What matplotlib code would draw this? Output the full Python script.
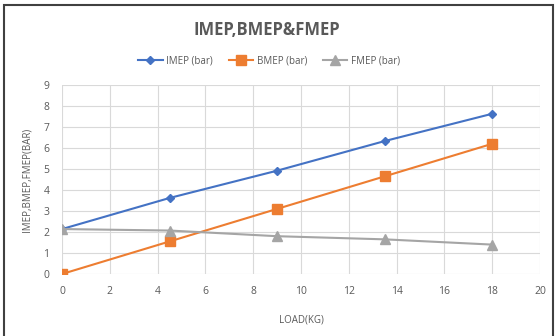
import matplotlib.pyplot as plt
from matplotlib.patches import Rectangle

# Нагрузка и давления
load = [0, 4.5, 9, 13.5, 18]
imep = [2.14, 3.62, 4.92, 6.33, 7.63]
bmep = [0.0, 1.55, 3.1, 4.65, 6.2]
fmep = [2.14, 2.07, 1.8, 1.65, 1.4]

plt.rcParams['font.family'] = ['Open Sans', 'DejaVu Sans']

fig = plt.figure(figsize=(5.55, 3.36), dpi=100)
ax = fig.add_axes([62/555, 1 - 274/336, (540-62)/555, (274-85)/336])

ax.plot(load, imep, color='#4472C4', marker='D', markersize=4, linewidth=1.5, label='IMEP (bar)')
ax.plot(load, bmep, color='#ED7D31', marker='s', markersize=6.5, linewidth=1.5, label='BMEP (bar)')
ax.plot(load, fmep, color='#A5A5A5', marker='^', markersize=6.5, linewidth=1.5, label='FMEP (bar)')

ax.set_xlim(0, 20)
ax.set_ylim(0, 9)
ax.set_xticks(range(0, 21, 2))
ax.set_yticks(range(0, 10))
ax.grid(True, color='#D9D9D9', linewidth=0.8)
ax.set_axisbelow(True)
for s in ax.spines.values():
    s.set_visible(False)
ax.tick_params(length=0, colors='#595959', labelsize=7.5, pad=9)

ax.set_xlabel('LOAD(KG)', color='#595959', fontsize=7, labelpad=12)
ax.set_ylabel('IMEP,BMEP,FMEP(BAR)', color='#595959', fontsize=7, labelpad=8)

fig.text(0.48, 1 - 30/336, 'IMEP,BMEP&FMEP', ha='center', va='center',
         fontsize=12, fontweight='bold', color='#595959')
fig.legend(loc='center', bbox_to_anchor=(0.485, 1 - 61/336), ncol=3, frameon=False,
           fontsize=7, labelcolor='#595959', handlelength=2.5, handletextpad=0.4,
           columnspacing=1.6)

# рамка вокруг диаграммы
fig.patches.append(Rectangle((4/555, -0.05), 549/555, 1 - 5/336 + 0.05, transform=fig.transFigure,
                             fill=False, edgecolor='#404040', linewidth=1.5))

fig.savefig('out.png', dpi=100)
